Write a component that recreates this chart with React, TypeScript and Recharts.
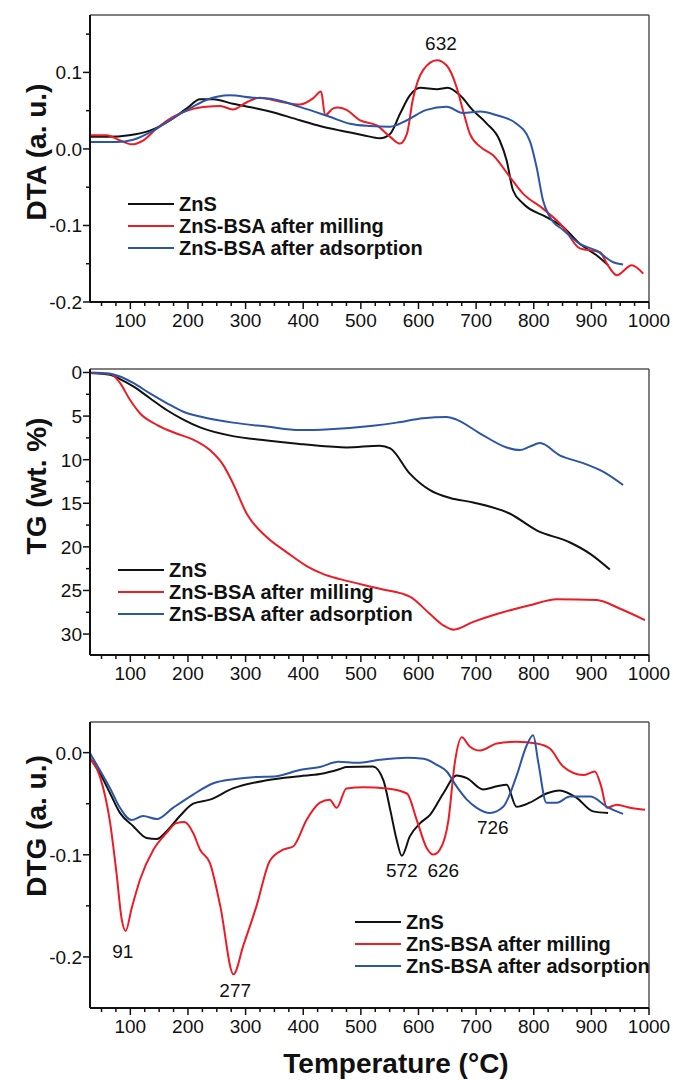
import React from 'react';
import { LineChart, Line, XAxis, YAxis, ReferenceLine, ReferenceDot } from 'recharts';

type Pt = [number, number];

const seriesNames = ['ZnS', 'ZnS-BSA after milling', 'ZnS-BSA after adsorption'];
const seriesColors = ['#111111', '#ed1c24', '#2b55a6'];

// temperature ticks (major every 100, minor every 25)
const tempTicks = [
  50, 75, 100, 125, 150, 175, 200, 225, 250, 275, 300, 325, 350, 375, 400, 425, 450, 475, 500, 525,
  550, 575, 600, 625, 650, 675, 700, 725, 750, 775, 800, 825, 850, 875, 900, 925, 950, 975, 1000,
];
const dtaTicks = [-0.2, -0.15, -0.1, -0.05, 0, 0.05, 0.1, 0.15];
const tgTicks = [0, 2.5, 5, 7.5, 10, 12.5, 15, 17.5, 20, 22.5, 25, 27.5, 30];
const dtgTicks = [-0.2, -0.15, -0.1, -0.05, 0];

// DTA (a. u.)
const dtaZnS: Pt[] = [
  [30, 0.016], [60, 0.016], [98, 0.018], [134, 0.024], [169, 0.0375], [198, 0.053], [221, 0.065],
  [244, 0.065], [278, 0.059], [337, 0.05], [394, 0.0375], [429, 0.03], [464, 0.024], [504, 0.018],
  [533, 0.014], [551, 0.02], [568, 0.046], [585, 0.07], [603, 0.08], [632, 0.078], [651, 0.08],
  [672, 0.07], [695, 0.05], [718, 0.0335], [741, 0.011], [753, -0.015], [764, -0.054], [781, -0.071],
  [822, -0.089], [851, -0.102], [880, -0.124], [909, -0.139], [929, -0.152],
];
const dtaMilling: Pt[] = [
  [30, 0.018], [59, 0.018], [82, 0.011], [102, 0.006], [122, 0.011], [146, 0.027], [174, 0.042],
  [203, 0.051], [232, 0.055], [256, 0.056], [278, 0.0515], [302, 0.061], [325, 0.067], [365, 0.061],
  [394, 0.058], [417, 0.066], [431, 0.075], [438, 0.044], [452, 0.053], [460, 0.054], [475, 0.051],
  [498, 0.0375], [527, 0.031], [551, 0.0157], [568, 0.007], [580, 0.02], [590, 0.064], [608, 0.103],
  [632, 0.116], [649, 0.109], [666, 0.081], [677, 0.051], [689, 0.02], [707, 0.003], [729, -0.008],
  [759, -0.037], [781, -0.058], [816, -0.078], [851, -0.102], [880, -0.13], [915, -0.135],
  [927, -0.15], [944, -0.165], [970, -0.152], [990, -0.163],
];
const dtaAdsorption: Pt[] = [
  [30, 0.009], [76, 0.009], [105, 0.012], [140, 0.024], [174, 0.04], [203, 0.053], [232, 0.064],
  [272, 0.07], [313, 0.067], [348, 0.065], [394, 0.055], [446, 0.042], [481, 0.033], [516, 0.03],
  [551, 0.029], [580, 0.0375], [614, 0.051], [649, 0.055], [677, 0.047], [707, 0.049], [736, 0.044],
  [770, 0.033], [793, 0.011], [805, -0.024], [816, -0.067], [828, -0.089], [851, -0.106],
  [880, -0.124], [909, -0.133], [938, -0.148], [955, -0.151],
];

// TG (wt. %)
const tgZnS: Pt[] = [
  [30, 0.07], [65, 0.26], [82, 0.76], [105, 1.6], [134, 2.95], [163, 4.3], [192, 5.4], [221, 6.3],
  [278, 7.3], [337, 7.8], [394, 8.2], [446, 8.5], [475, 8.6], [533, 8.4], [551, 8.7], [585, 11.6],
  [620, 13.5], [655, 14.4], [695, 14.9], [759, 16.2], [805, 18.1], [863, 19.5], [898, 20.8], [932, 22.6],
];
const tgMilling: Pt[] = [
  [30, 0.07], [65, 0.15], [82, 1.2], [99, 3.1], [117, 4.7], [146, 6.0], [180, 7.0], [209, 7.7],
  [238, 8.9], [261, 10.6], [278, 12.7], [302, 16.2], [337, 18.9], [371, 20.6], [406, 22.2],
  [434, 23.1], [464, 23.7], [533, 24.8], [585, 25.7], [620, 27.7], [643, 29.0], [661, 29.5],
  [695, 28.6], [736, 27.7], [793, 26.7], [840, 26.0], [909, 26.1], [950, 27.1], [993, 28.4],
];
const tgAdsorption: Pt[] = [
  [30, 0], [65, 0.15], [82, 0.46], [105, 1.2], [134, 2.4], [163, 3.5], [192, 4.5], [221, 5.05],
  [278, 5.75], [337, 6.2], [394, 6.6], [446, 6.5], [521, 6.1], [562, 5.75], [608, 5.25], [649, 5.1],
  [666, 5.4], [707, 7.0], [753, 8.6], [776, 8.9], [793, 8.5], [811, 8.1], [845, 9.5], [886, 10.4],
  [921, 11.4], [955, 12.9],
];

// DTG (a. u.)
const dtgZnS: Pt[] = [
  [30, -0.0055], [47, -0.02], [65, -0.04], [82, -0.059], [105, -0.072], [128, -0.0835], [146, -0.0845],
  [163, -0.077], [186, -0.062], [209, -0.05], [238, -0.046], [278, -0.035], [337, -0.027],
  [394, -0.023], [429, -0.021], [464, -0.016], [475, -0.014], [521, -0.0136], [539, -0.027],
  [551, -0.056], [562, -0.085], [571, -0.101], [585, -0.082], [603, -0.069], [620, -0.061],
  [643, -0.04], [666, -0.0224], [684, -0.025], [712, -0.036], [736, -0.033], [753, -0.0315],
  [770, -0.053], [793, -0.049], [822, -0.04], [845, -0.037], [874, -0.044], [903, -0.0575], [929, -0.059],
];
const dtgMilling: Pt[] = [
  [30, -0.0055], [47, -0.023], [65, -0.069], [76, -0.118], [85, -0.163], [92, -0.1745], [102, -0.153],
  [117, -0.124], [140, -0.095], [163, -0.0786], [180, -0.069], [194, -0.068], [209, -0.0786],
  [221, -0.095], [238, -0.108], [256, -0.15], [279, -0.217], [296, -0.189], [319, -0.15],
  [342, -0.106], [365, -0.095], [383, -0.0916], [406, -0.0656], [429, -0.049], [446, -0.046],
  [458, -0.054], [475, -0.035], [504, -0.034], [545, -0.035], [580, -0.04], [597, -0.066],
  [614, -0.093], [626, -0.0997], [637, -0.095], [652, -0.066], [663, -0.01], [675, 0.015],
  [689, 0.006], [707, 0.002], [736, 0.009], [770, 0.0107], [805, 0.009], [828, 0.004],
  [851, -0.0136], [886, -0.022], [906, -0.0185], [917, -0.033], [927, -0.054], [944, -0.051],
  [967, -0.054], [993, -0.056],
];
const dtgAdsorption: Pt[] = [
  [30, -0.0006], [47, -0.017], [65, -0.035], [82, -0.054], [102, -0.066], [122, -0.062], [146, -0.065],
  [174, -0.054], [209, -0.041], [244, -0.03], [279, -0.026], [313, -0.024], [354, -0.023],
  [394, -0.017], [429, -0.014], [461, -0.009], [493, -0.01], [533, -0.007], [580, -0.005],
  [609, -0.006], [632, -0.012], [649, -0.0185], [666, -0.033], [684, -0.046], [701, -0.054],
  [724, -0.059], [747, -0.053], [770, -0.023], [787, 0.006], [799, 0.017], [808, -0.01],
  [822, -0.049], [840, -0.049], [863, -0.043], [898, -0.043], [927, -0.053], [955, -0.06],
];

const FONT = '"Liberation Sans", Arial, Helvetica, sans-serif';
const AXIS = '#111';

const toRows = (pts: Pt[]) => pts.map(([t, v]) => ({ t, v }));

const XTick = (props: any) => {
  const { x, y, payload } = props;
  const major = payload.value % 100 === 0;
  return (
    <g>
      <line x1={x} y1={y} x2={x} y2={y + (major ? 7 : 4)} stroke={AXIS} strokeWidth={1.5} />
      {major && (
        <text x={x} y={y + 25} textAnchor="middle" fontSize={19} fill={AXIS} fontFamily={FONT}>
          {payload.value}
        </text>
      )}
    </g>
  );
};

const makeYTick = (isMajor: (v: number) => boolean, fmt: (v: number) => string) => (props: any) => {
  const { x, y, payload } = props;
  const major = isMajor(payload.value);
  return (
    <g>
      <line x1={x} y1={y} x2={x - (major ? 7 : 4)} y2={y} stroke={AXIS} strokeWidth={1.5} />
      {major && (
        <text x={x - 8} y={y} dy={7} textAnchor="end" fontSize={19} fill={AXIS} fontFamily={FONT}>
          {fmt(payload.value)}
        </text>
      )}
    </g>
  );
};

const annLabel = (value: string) => ({
  value,
  position: 'center' as const,
  fontSize: 19,
  fill: AXIS,
  fontFamily: FONT,
});

type PanelProps = {
  top: number;
  height: number;
  domain: [number, number];
  reversed?: boolean;
  ticks: number[];
  tick: (p: any) => React.ReactElement;
  frameY: number;
  series: Pt[][];
  notes: { t: number; v: number; text: string }[];
};

const Panel = ({ top, height, domain, reversed, ticks, tick, frameY, series, notes }: PanelProps) => (
  <div style={{ position: 'absolute', left: 0, top }}>
    <LineChart width={673} height={height} margin={{ top: 15, right: 24, left: 0, bottom: 0 }}>
      <XAxis
        dataKey="t"
        type="number"
        domain={[30, 1000]}
        allowDataOverflow
        ticks={tempTicks}
        interval={0}
        tick={XTick}
        tickLine={false}
        tickSize={0}
        tickMargin={0}
        height={38}
        axisLine={{ stroke: AXIS, strokeWidth: 2 }}
      />
      <YAxis
        type="number"
        domain={domain}
        reversed={reversed}
        allowDataOverflow
        ticks={ticks}
        interval={0}
        tick={tick}
        tickLine={false}
        tickSize={0}
        tickMargin={0}
        width={90}
        axisLine={{ stroke: AXIS, strokeWidth: 2 }}
      />
      <ReferenceLine y={frameY} stroke="#555" strokeWidth={1.5} />
      <ReferenceLine x={1000} stroke="#555" strokeWidth={1.5} />
      {series.map((pts, i) => (
        <Line
          key={seriesNames[i]}
          data={toRows(pts)}
          dataKey="v"
          type="monotone"
          stroke={seriesColors[i]}
          strokeWidth={2}
          dot={false}
          isAnimationActive={false}
        />
      ))}
      {notes.map((n) => (
        <ReferenceDot key={n.text} x={n.t} y={n.v} r={0} stroke="none" fill="none" label={annLabel(n.text)} />
      ))}
    </LineChart>
  </div>
);

const LegendBox = ({ x, y }: { x: number; y: number }) => (
  <g>
    {seriesNames.map((name, i) => (
      <g key={name}>
        <line x1={x} y1={y + i * 22} x2={x + 46} y2={y + i * 22} stroke={seriesColors[i]} strokeWidth={2} />
        <text
          x={x + 51}
          y={y + i * 22}
          dy={7}
          fontSize={20}
          fontWeight="bold"
          fill={AXIS}
          fontFamily={FONT}
        >
          {name}
        </text>
      </g>
    ))}
  </g>
);

const YTitle = ({ x, y, text }: { x: number; y: number; text: string }) => (
  <text
    transform={`translate(${x},${y}) rotate(-90)`}
    textAnchor="middle"
    dy={10}
    fontSize={28}
    fontWeight="bold"
    fill={AXIS}
    fontFamily={FONT}
  >
    {text}
  </text>
);

const dtaTick = makeYTick((v) => Math.round(v * 100) % 10 === 0, (v) => v.toFixed(1));
const tgTick = makeYTick((v) => v % 5 === 0, (v) => String(v));
const dtgTick = makeYTick((v) => Math.round(v * 100) % 10 === 0, (v) => v.toFixed(1));

export default function App() {
  return (
    <div style={{ position: 'absolute', left: 0, top: 0, width: 673, height: 1080, background: '#fff' }}>
      <Panel
        top={0}
        height={340}
        domain={[-0.2, 0.175]}
        ticks={dtaTicks}
        tick={dtaTick}
        frameY={0.175}
        series={[dtaZnS, dtaMilling, dtaAdsorption]}
        notes={[{ t: 639, v: 0.138, text: '632' }]}
      />
      <Panel
        top={354}
        height={339}
        domain={[-0.4, 32.4]}
        reversed
        ticks={tgTicks}
        tick={tgTick}
        frameY={-0.4}
        series={[tgZnS, tgMilling, tgAdsorption]}
        notes={[]}
      />
      <Panel
        top={707}
        height={339}
        domain={[-0.25, 0.03]}
        ticks={dtgTicks}
        tick={dtgTick}
        frameY={0.03}
        series={[dtgZnS, dtgMilling, dtgAdsorption]}
        notes={[
          { t: 87, v: -0.194, text: '91' },
          { t: 282, v: -0.233, text: '277' },
          { t: 571, v: -0.115, text: '572' },
          { t: 643, v: -0.115, text: '626' },
          { t: 729, v: -0.0734, text: '726' },
        ]}
      />
      <svg
        width={673}
        height={1080}
        style={{ position: 'absolute', left: 0, top: 0, pointerEvents: 'none' }}
      >
        <YTitle x={36} y={152} text="DTA (a. u.)" />
        <YTitle x={36} y={486} text="TG (wt. %)" />
        <YTitle x={36} y={826} text="DTG (a. u.)" />
        <text x={396} y={1063} dy={10} textAnchor="middle" fontSize={28} fontWeight="bold" fill={AXIS} fontFamily={FONT}>
          Temperature (°C)
        </text>
        <LegendBox x={128} y={204} />
        <LegendBox x={118} y={570} />
        <LegendBox x={355} y={922} />
      </svg>
    </div>
  );
}
